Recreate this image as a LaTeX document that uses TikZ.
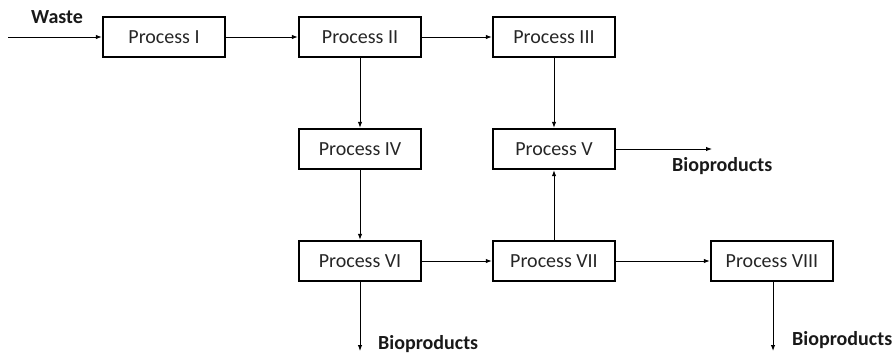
\documentclass[tikz,border=0pt]{standalone}
\usepackage{fontspec}
\setmainfont{Carlito}
\usetikzlibrary{arrows.meta}
\begin{document}
\begin{tikzpicture}[x=1pt,y=-1pt,
  procbox/.style={draw=black,line width=2.4pt,minimum width=122pt,minimum height=40pt,
    inner sep=0pt,font=\fontsize{20}{24}\selectfont,text=black!85},
  flow/.style={line width=1pt,-{Latex[length=6pt,width=4.5pt]}},
  lbl/.style={font=\fontsize{20}{24}\selectfont\bfseries,text=black!90,inner sep=0pt}]
\useasboundingbox (0,0) rectangle (896,356);
% process boxes
\node[procbox] (p1) at (164,37) {Process I};
\node[procbox] (p2) at (360,37) {Process II};
\node[procbox] (p3) at (554,37) {Process III};
\node[procbox] (p4) at (360,149) {Process IV};
\node[procbox] (p5) at (554,149) {Process V};
\node[procbox] (p6) at (360,261) {Process VI};
\node[procbox] (p7) at (554,261) {Process VII};
\node[procbox] (p8) at (772,261) {Process VIII};
% free ends of the input and output streams
\coordinate (win) at (8,37);
\coordinate (o5) at (712,149);
\coordinate (o6) at (360,351);
\coordinate (o8) at (773,351);
% labels
\node[lbl] (waste) at (57,17) {Waste};
\node[lbl,anchor=west] (b5) at (672,166) {Bioproducts};
\node[lbl,anchor=west] (b6) at (378,344) {Bioproducts};
\node[lbl,anchor=west] (b8) at (792,340) {Bioproducts};
% connectors
\draw[flow] (win) -- (p1.west);
\draw[flow] (p1) -- (p2);
\draw[flow] (p2) -- (p3);
\draw[flow] (p2) -- (p4);
\draw[flow] (p3) -- (p5);
\draw[flow] (p4) -- (p6);
\draw[flow] (p6) -- (p7);
\draw[flow] (p7) -- (p5);
\draw[flow] (p7) -- (p8);
\draw[flow] (p5.east) -- (o5);
\draw[flow] (p6.south) -- (o6);
\draw[flow] (p8.south -| o8) -- (o8);
\end{tikzpicture}
\end{document}
